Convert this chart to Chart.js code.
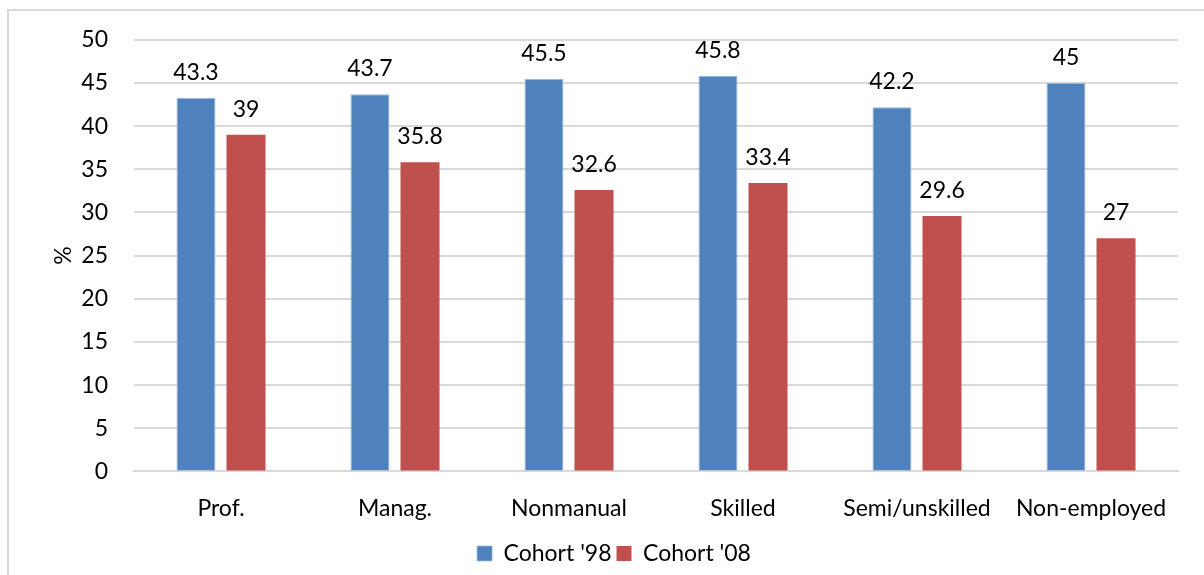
<!DOCTYPE html>
<html>
<head>
<meta charset="utf-8">
<script src="https://cdn.jsdelivr.net/npm/chart.js@4"></script>
<style>
body{margin:0;background:#fff;overflow:hidden;}
#frame{position:absolute;left:7px;top:9px;width:1220px;height:600px;border:2px solid #d9d9d9;}
#chart{position:absolute;left:0;top:0;}
</style>
</head>
<body>
<div id="frame"></div>
<canvas id="chart" width="1204" height="575"></canvas>
<script>
const categories = ["Prof.","Manag.","Nonmanual","Skilled","Semi/unskilled","Non-employed"];
const cohort98 = [43.3,43.7,45.5,45.8,42.2,45];
const cohort08 = [39,35.8,32.6,33.4,29.6,27];
const seriesNames = ["Cohort '98","Cohort '08"];
const yTicks = [0,5,10,15,20,25,30,35,40,45,50];

const fontFamily = "Lato, 'Open Sans', sans-serif";
const fontSize = 23;

// writes each value above its bar
const valueLabels = {
id:'valueLabels',
afterDatasetsDraw(chart){
const c = chart.ctx;
c.save();
c.font = fontSize + "px " + fontFamily;
c.fillStyle = "#000";
c.textAlign = "center";
c.textBaseline = "bottom";
chart.data.datasets.forEach((ds,i)=>{
chart.getDatasetMeta(i).data.forEach((bar,j)=>{
c.fillText(String(ds.data[j]), bar.x, bar.y - 14);
});
});
c.restore();
}
};

new Chart(document.getElementById("chart"),{
type:'bar',
data:{
labels:categories,
datasets:[
{label:seriesNames[0],data:cohort98,backgroundColor:'#4f81bd',borderColor:'#9bb9df',borderWidth:{left:1,right:1,top:1,bottom:0}},
{label:seriesNames[1],data:cohort08,backgroundColor:'#c0504d',borderWidth:0}
]
},
options:{
responsive:false,
animation:false,
devicePixelRatio:1,
categoryPercentage:0.575,
barPercentage:0.78,
layout:{padding:{left:50,right:26,top:30,bottom:0}},
plugins:{
legend:{
position:'bottom',
labels:{font:{family:fontFamily,size:fontSize},color:'#000',boxWidth:15,boxHeight:15,padding:5}
},
tooltip:{enabled:false}
},
scales:{
x:{
grid:{display:false},
border:{color:'#d9d9d9',width:2},
ticks:{font:{family:fontFamily,size:fontSize},color:'#000',padding:15,maxRotation:0,autoSkip:false}
},
y:{
min:0,max:50,
afterBuildTicks(axis){axis.ticks = yTicks.map(v=>({value:v}));},
afterFit(axis){axis.width = 84;},
grid:{color:'#d9d9d9',lineWidth:2,drawTicks:false},
border:{display:false},
ticks:{font:{family:fontFamily,size:fontSize},color:'#000',padding:26},
title:{display:true,text:'%',font:{family:fontFamily,size:fontSize},color:'#000',padding:0}
}
}
},
plugins:[valueLabels]
});
</script>
</body>
</html>
